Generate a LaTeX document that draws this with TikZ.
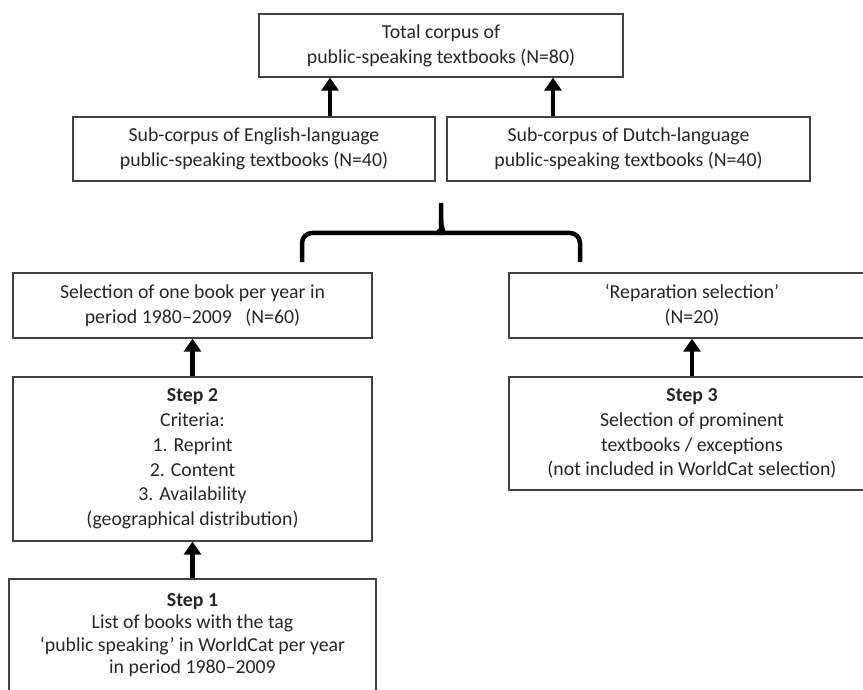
\documentclass[tikz,border=0pt]{standalone}
\usepackage{fontspec}
\setmainfont{Carlito}
\usetikzlibrary{arrows.meta}
\definecolor{boxline}{HTML}{404040}
\definecolor{txt}{HTML}{262626}
\tikzset{
  box/.style={draw=boxline, line width=1.3pt, align=center, text=txt,
    font=\fontsize{19.8}{24.8}\selectfont, inner sep=0pt},
  arr/.style={line width=4.2pt, -{Triangle[length=13pt,width=17pt]}},
  bracepath/.style={line width=4.5pt, rounded corners=10pt},
}
\begin{document}
\begin{tikzpicture}[x=1pt,y=-1pt]
\useasboundingbox (0,0) rectangle (863,690);
\clip (0,0) rectangle (863,690);
\fill[white] (0,0) rectangle (863,690);

\node[box, minimum width=364pt, minimum height=63pt] (top) at (441,45.5)
  {Total corpus of\\public-speaking textbooks (N=80)};
\node[box, minimum width=362pt, minimum height=64pt] (eng) at (254,149)
  {Sub-corpus of English-language\\public-speaking textbooks (N=40)};
\node[box, minimum width=363pt, minimum height=64pt] (dut) at (628.5,149)
  {Sub-corpus of Dutch-language\\public-speaking textbooks (N=40)};

\node[box, minimum width=359pt, minimum height=65pt] (sel) at (192.5,305.5)
  {Selection of one book per year in\\period 1980--2009\ \ \ (N=60)};
\node[box, minimum width=359pt, minimum height=164pt] (step2) at (192.5,459)
  {\textbf{Step 2}\\Criteria:\\1. Reprint\\2. Content\\3. Availability\\(geographical distribution)};
\node[box, minimum width=367pt, minimum height=112pt,
  font=\fontsize{19.8}{22.5}\selectfont] (step1) at (192.5,635)
  {\textbf{Step 1}\\List of books with the tag\\‘public speaking’ in WorldCat per year\\in period 1980--2009};

\node[box, minimum width=366pt, minimum height=65pt] (rep) at (692,305.5)
  {‘Reparation selection’\\(N=20)};
\node[box, minimum width=366pt, minimum height=113pt] (step3) at (692,433.5)
  {\textbf{Step 3}\\Selection of prominent\\textbooks / exceptions\\(not included in WorldCat selection)};

\coordinate (a1) at (330,0);
\coordinate (a2) at (553,0);
\coordinate (a3) at (192.5,0);
\coordinate (a4) at (692,0);
\draw[arr] (a1 |- eng.north) -- (a1 |- top.south);
\draw[arr] (a2 |- dut.north) -- (a2 |- top.south);
\draw[arr] (a3 |- step2.north) -- (a3 |- sel.south);
\draw[arr] (a3 |- step1.north) -- (a3 |- step2.south);
\draw[arr] (a4 |- step3.north) -- (a4 |- rep.south);

\coordinate (bl) at (302,262);
\coordinate (br) at (580,262);
\coordinate (bt) at (441,203);
\draw[bracepath] (bl) -- (302,233) -- (429,233)
  .. controls (437,233) and (441,229) .. (441,220) -- (bt);
\draw[bracepath] (br) -- (580,233) -- (453,233)
  .. controls (445,233) and (441,229) .. (441,220);
\end{tikzpicture}
\end{document}
